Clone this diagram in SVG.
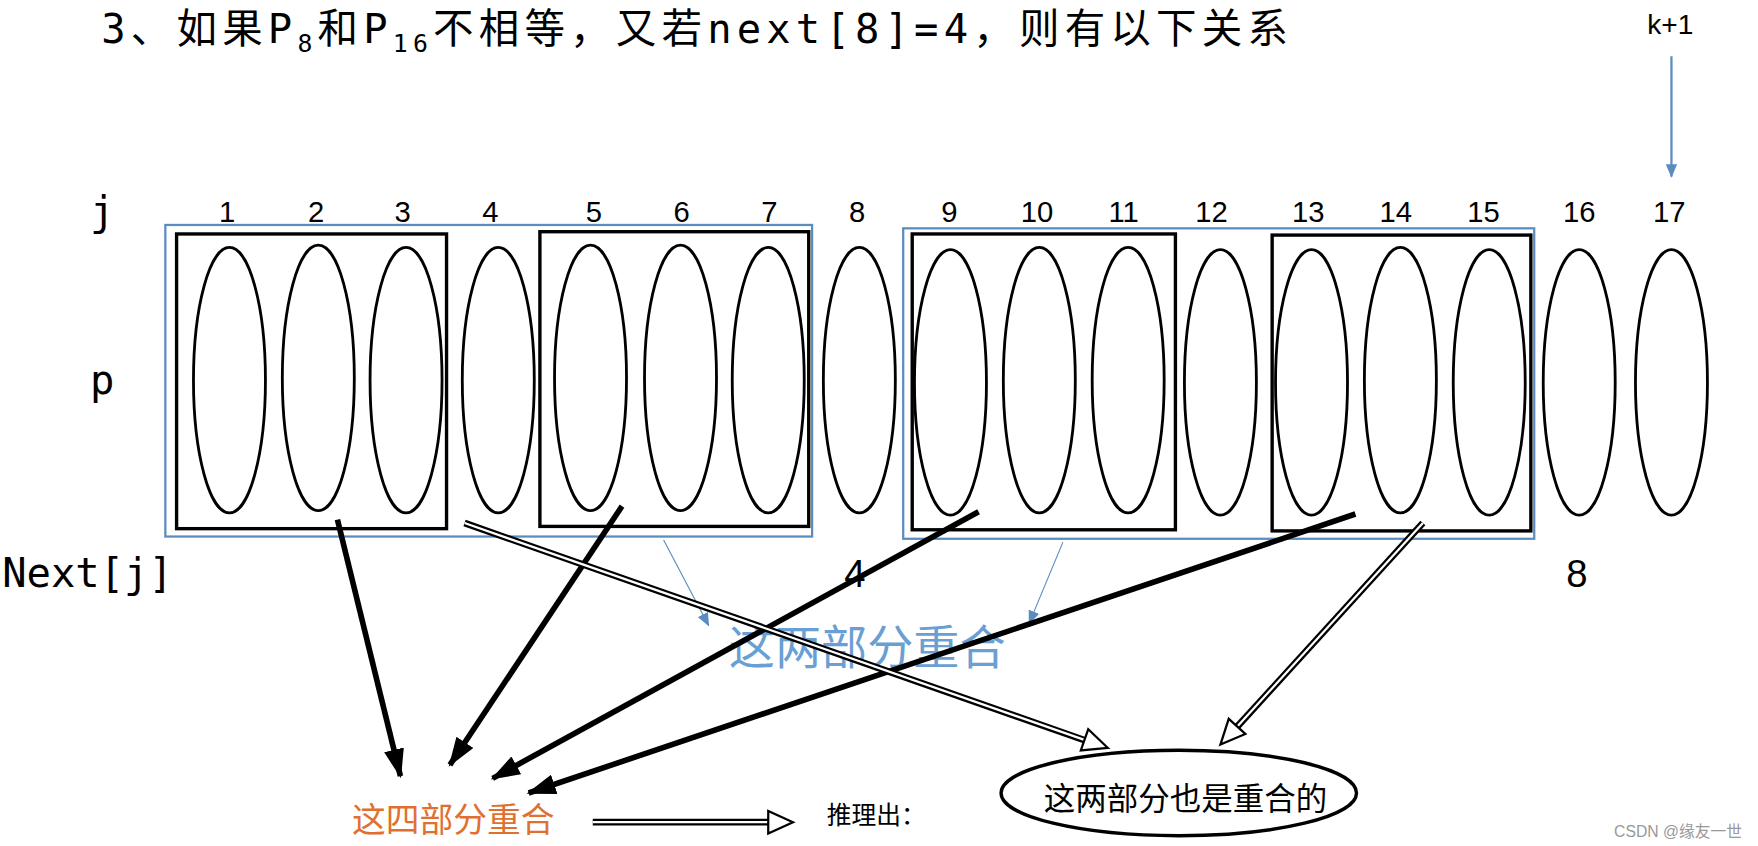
<svg xmlns="http://www.w3.org/2000/svg" width="1758" height="846" viewBox="0 0 1758 846">
<style>
.t{font-family:"Liberation Sans","Noto Sans CJK SC",sans-serif}
.s{font-family:"Liberation Serif","Noto Sans CJK SC",serif}
.m{font-family:"DejaVu Sans Mono","Noto Sans CJK SC",monospace}
.n{font-family:"Liberation Sans",sans-serif;font-size:26px;text-anchor:middle}
.e{fill:none;stroke:#000;stroke-width:2.5}
.bx{fill:none;stroke:#000;stroke-width:3}
.bl{fill:none;stroke:#5b8cc0;stroke-width:2}
.th{stroke:#000;stroke-width:5;fill:none}
.ho{stroke:#000;stroke-width:6;fill:none}
.hi{stroke:#fff;stroke-width:2;fill:none}
.hh{fill:#fff;stroke:#000;stroke-width:2}
</style>
<defs>
<marker id="ah" markerUnits="userSpaceOnUse" markerWidth="26" markerHeight="18" refX="24" refY="9" orient="auto"><path d="M0,0 L26,9 L0,18 z" fill="#000"/></marker>
<marker id="ab" markerUnits="userSpaceOnUse" markerWidth="12" markerHeight="10" refX="11" refY="5" orient="auto"><path d="M0,0 L12,5 L0,10 z" fill="#5b8cc0"/></marker>
</defs>
<rect width="1758" height="846" fill="#fff"/>
<g transform="scale(1.1248)">
<g id="title"><text class="m" x="90" y="38" font-size="36" textLength="1055" lengthAdjust="spacing">3、如果P<tspan font-size="22" dy="8">8</tspan><tspan dy="-8">和P</tspan><tspan font-size="22" dy="8">16</tspan><tspan dy="-8">不相等，又若next[8]=4，则有以下关系</tspan></text></g>
<g id="k1"><text class="t" x="1485" y="30" font-size="25" text-anchor="middle">k+1</text></g>
<g id="labels">
<text class="m" x="80" y="200" font-size="36">j</text>
<text class="m" x="80" y="350" font-size="36">p</text>
<text class="m" x="2" y="522" font-size="36">Next[j]</text>
<text class="t" x="760" y="522" font-size="34" text-anchor="middle">4</text>
<text class="t" x="1402" y="522" font-size="34" text-anchor="middle">8</text>
</g>
<g id="nums">
<text class="n" x="202" y="197">1</text><text class="n" x="281" y="197">2</text><text class="n" x="358" y="197">3</text><text class="n" x="436" y="197">4</text><text class="n" x="528" y="197">5</text><text class="n" x="606" y="197">6</text><text class="n" x="684" y="197">7</text><text class="n" x="762" y="197">8</text><text class="n" x="844" y="197">9</text><text class="n" x="922" y="197">10</text><text class="n" x="999" y="197">11</text><text class="n" x="1077" y="197">12</text><text class="n" x="1163" y="197">13</text><text class="n" x="1241" y="197">14</text><text class="n" x="1319" y="197">15</text><text class="n" x="1404" y="197">16</text><text class="n" x="1484" y="197">17</text>
</g>
<g id="cells">
<ellipse class="e" cx="204" cy="338" rx="32" ry="118"/><ellipse class="e" cx="283" cy="336" rx="32" ry="118"/><ellipse class="e" cx="361" cy="338" rx="32" ry="118"/><ellipse class="e" cx="443" cy="338" rx="32" ry="118"/><ellipse class="e" cx="525" cy="336" rx="32" ry="118"/><ellipse class="e" cx="605" cy="336" rx="32" ry="118"/><ellipse class="e" cx="683" cy="338" rx="32" ry="118"/><ellipse class="e" cx="764" cy="338" rx="32" ry="118"/><ellipse class="e" cx="845" cy="340" rx="32" ry="118"/><ellipse class="e" cx="924" cy="338" rx="32" ry="118"/><ellipse class="e" cx="1003" cy="338" rx="32" ry="118"/><ellipse class="e" cx="1085" cy="340" rx="32" ry="118"/><ellipse class="e" cx="1166" cy="340" rx="32" ry="118"/><ellipse class="e" cx="1245" cy="338" rx="32" ry="118"/><ellipse class="e" cx="1324" cy="340" rx="32" ry="118"/><ellipse class="e" cx="1404" cy="340" rx="32" ry="118"/><ellipse class="e" cx="1486" cy="340" rx="32" ry="118"/>
</g>
<g id="boxes">
<rect class="bl" x="147" y="200" width="575" height="277"/><rect class="bl" x="803" y="203" width="561" height="276"/>
<rect class="bx" x="157" y="208" width="240" height="262"/><rect class="bx" x="480" y="206" width="239" height="262"/><rect class="bx" x="811" y="208" width="234" height="263"/><rect class="bx" x="1131" y="209" width="230" height="263"/>
</g>
<g id="overlap"><text class="t" x="648" y="590" font-size="41" fill="#6a9fd4">这两部分重合</text></g>
<g id="four"><text class="t" x="313" y="740" font-size="30" fill="#e07030">这四部分重合</text></g>
<g id="infer"><text class="s" x="735" y="733" font-size="22">推理出：</text></g>
<g id="result"><ellipse cx="1048" cy="705" rx="158" ry="38" fill="none" stroke="#000" stroke-width="3"/><text class="s" x="928" y="720" font-size="28">这两部分也是重合的</text></g>
<g id="watermark"><text class="t" x="1435" y="744" font-size="14" fill="#999">CSDN @缘友一世</text></g>
<g id="connectors">
<line x1="1486" y1="50" x2="1486" y2="157" stroke="#5b8cc0" stroke-width="2" marker-end="url(#ab)"/>
<line x1="590" y1="480" x2="630" y2="556" stroke="#5b8cc0" stroke-width="1" marker-end="url(#ab)"/>
<line x1="945" y1="482" x2="915" y2="554" stroke="#5b8cc0" stroke-width="1" marker-end="url(#ab)"/>
<line class="th" x1="300" y1="462" x2="356" y2="690" marker-end="url(#ah)"/>
<line class="th" x1="553" y1="450" x2="400" y2="680" marker-end="url(#ah)"/>
<line class="th" x1="870" y1="455" x2="438" y2="692" marker-end="url(#ah)"/>
<line class="th" x1="1205" y1="457" x2="470" y2="705" marker-end="url(#ah)"/>
<line class="ho" x1="413" y1="465" x2="964" y2="658"/><line class="hi" x1="413" y1="465" x2="966" y2="658.5"/>
<polygon class="hh" points="985,665 960.9,667.1 967.5,648.3"/>
<line class="ho" x1="1265" y1="465" x2="1100" y2="646"/><line class="hi" x1="1265" y1="465" x2="1099" y2="647"/>
<polygon class="hh" points="1085,662 1092.4,639.1 1107.2,652.5"/>
<line class="ho" x1="527" y1="731" x2="683" y2="731"/><line class="hi" x1="527" y1="731" x2="685" y2="731"/>
<polygon class="hh" points="705,731 683,721 683,741"/>
</g>
</g>
</svg>
